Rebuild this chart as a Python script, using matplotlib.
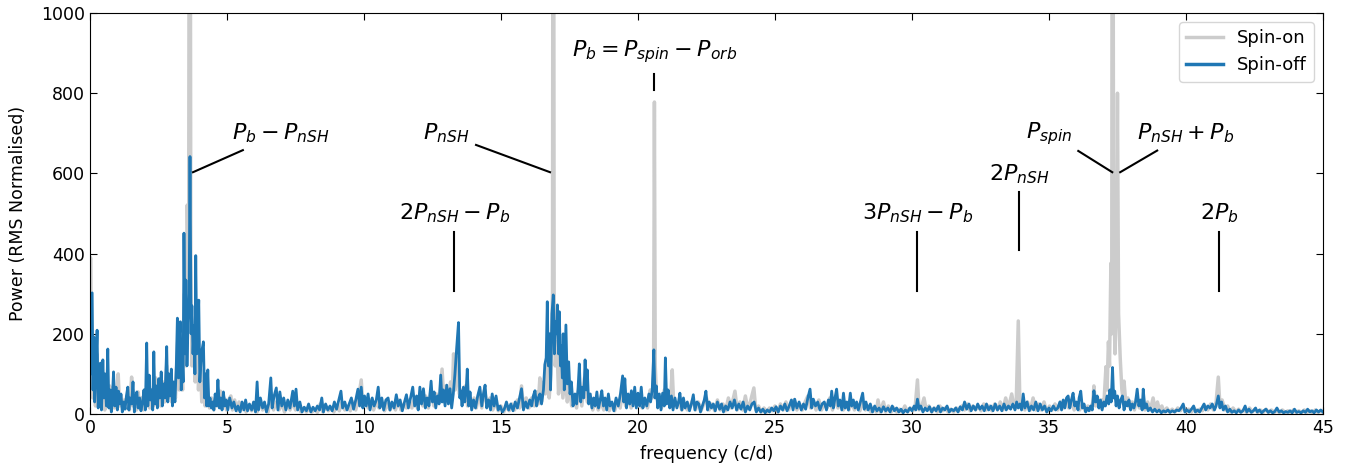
import matplotlib
matplotlib.use('AGG')
import matplotlib.pyplot as plt

# spin-on periodogram (grey, drawn underneath)
on_freq = [0.00, 0.02, 0.06, 0.10, 0.15, 0.20, 0.25, 0.30, 0.36, 0.42,
           0.48, 0.54, 0.60, 0.66, 0.72, 0.78, 0.84, 0.90, 0.96, 1.03,
           1.08, 1.14, 1.20, 1.26, 1.32, 1.38, 1.44, 1.52, 1.57, 1.63,
           1.70, 1.76, 1.82, 1.88, 1.94, 2.00, 2.06, 2.12, 2.18, 2.25,
           2.32, 2.40, 2.46, 2.52, 2.58, 2.66, 2.72, 2.80, 2.86, 2.92,
           2.98, 3.05, 3.12, 3.20, 3.26, 3.32, 3.38, 3.45, 3.50, 3.55,
           3.60, 3.64, 3.68, 3.72, 3.78, 3.84, 3.90, 3.96, 4.02, 4.08,
           4.14, 4.20, 4.28, 4.36, 4.44, 4.52, 4.60, 4.68, 4.76, 4.82,
           4.90, 4.98, 5.06, 5.14, 5.20, 5.28, 5.36, 5.44, 5.52, 5.60,
           5.70, 5.80, 5.90, 6.00, 6.10, 6.20, 6.30, 6.40, 6.50, 6.60,
           6.70, 6.80, 6.90, 7.00, 7.10, 7.20, 7.30, 7.40, 7.50, 7.60,
           7.70, 7.80, 7.90, 8.00, 8.10, 8.20, 8.30, 8.40, 8.50, 8.60,
           8.70, 8.80, 8.90, 9.00, 9.10, 9.20, 9.30, 9.40, 9.50, 9.60,
           9.70, 9.80, 9.90, 9.96, 10.05, 10.15, 10.25, 10.35, 10.45, 10.55,
           10.65, 10.75, 10.85, 10.95, 11.05, 11.15, 11.25, 11.35, 11.45, 11.55,
           11.65, 11.75, 11.85, 11.95, 12.05, 12.15, 12.25, 12.35, 12.45, 12.55,
           12.65, 12.75, 12.85, 12.92, 13.00, 13.08, 13.16, 13.22, 13.27, 13.33,
           13.42, 13.48, 13.55, 13.62, 13.70, 13.78, 13.86, 13.94, 14.02, 14.10,
           14.20, 14.30, 14.40, 14.50, 14.60, 14.70, 14.80, 14.90, 15.00, 15.10,
           15.20, 15.30, 15.40, 15.50, 15.60, 15.68, 15.75, 15.82, 15.92, 16.02,
           16.12, 16.22, 16.30, 16.36, 16.42, 16.48, 16.55, 16.62, 16.70, 16.76,
           16.82, 16.88, 16.91, 16.94, 16.98, 17.04, 17.10, 17.18, 17.26, 17.34,
           17.42, 17.50, 17.58, 17.66, 17.76, 17.86, 17.95, 18.05, 18.15, 18.25,
           18.35, 18.45, 18.55, 18.65, 18.75, 18.85, 18.95, 19.05, 19.15, 19.25,
           19.35, 19.45, 19.55, 19.65, 19.75, 19.85, 19.95, 20.05, 20.15, 20.25,
           20.35, 20.45, 20.52, 20.57, 20.60, 20.63, 20.68, 20.76, 20.86, 20.96,
           21.04, 21.12, 21.20, 21.25, 21.30, 21.40, 21.50, 21.60, 21.70, 21.80,
           21.90, 22.00, 22.10, 22.20, 22.30, 22.40, 22.50, 22.60, 22.70, 22.80,
           22.90, 23.00, 23.10, 23.20, 23.30, 23.40, 23.54, 23.62, 23.72, 23.82,
           23.92, 24.00, 24.10, 24.23, 24.30, 24.40, 24.50, 24.60, 24.70, 24.80,
           24.90, 25.00, 25.10, 25.20, 25.30, 25.40, 25.50, 25.60, 25.70, 25.80,
           25.90, 26.00, 26.10, 26.20, 26.30, 26.40, 26.50, 26.60, 26.70, 26.80,
           26.90, 27.00, 27.10, 27.20, 27.30, 27.40, 27.50, 27.60, 27.70, 27.80,
           27.90, 28.00, 28.10, 28.20, 28.30, 28.40, 28.50, 28.60, 28.70, 28.76,
           28.84, 28.96, 29.04, 29.14, 29.24, 29.34, 29.44, 29.54, 29.64, 29.74,
           29.84, 29.94, 30.04, 30.12, 30.20, 30.26, 30.36, 30.44, 30.52, 30.62,
           30.72, 30.82, 30.92, 31.02, 31.12, 31.22, 31.32, 31.42, 31.52, 31.62,
           31.72, 31.82, 31.92, 32.02, 32.12, 32.22, 32.32, 32.42, 32.52, 32.62,
           32.72, 32.82, 32.92, 33.02, 33.12, 33.22, 33.32, 33.42, 33.52, 33.64,
           33.72, 33.80, 33.88, 33.94, 34.02, 34.12, 34.22, 34.32, 34.42, 34.52,
           34.62, 34.72, 34.82, 34.92, 35.02, 35.12, 35.22, 35.32, 35.42, 35.52,
           35.62, 35.72, 35.82, 35.92, 36.02, 36.12, 36.22, 36.32, 36.42, 36.52,
           36.60, 36.64, 36.70, 36.78, 36.86, 36.94, 37.00, 37.08, 37.12, 37.17,
           37.21, 37.26, 37.29, 37.32, 37.36, 37.41, 37.46, 37.50, 37.54, 37.60,
           37.66, 37.70, 37.74, 37.80, 37.88, 37.96, 38.04, 38.12, 38.20, 38.30,
           38.40, 38.50, 38.60, 38.70, 38.80, 38.88, 38.96, 39.04, 39.12, 39.20,
           39.30, 39.40, 39.50, 39.60, 39.70, 39.80, 39.90, 40.00, 40.10, 40.20,
           40.30, 40.40, 40.50, 40.60, 40.70, 40.80, 40.90, 41.00, 41.10, 41.18,
           41.24, 41.32, 41.42, 41.52, 41.62, 41.72, 41.82, 41.92, 42.02, 42.12,
           42.22, 42.32, 42.42, 42.52, 42.62, 42.72, 42.82, 42.92, 43.02, 43.12,
           43.22, 43.32, 43.42, 43.52, 43.62, 43.72, 43.82, 43.92, 44.02, 44.12,
           44.22, 44.32, 44.42, 44.52, 44.62, 44.72, 44.82, 44.92, 45.00]
on_power = [200, 390, 150, 40, 120, 20, 150, 30, 80, 20,
            90, 10, 60, 20, 70, 10, 40, 15, 50, 100,
            20, 45, 10, 35, 15, 50, 10, 92, 20, 40,
            10, 55, 15, 40, 10, 60, 20, 80, 15, 60,
            20, 90, 30, 60, 20, 80, 30, 120, 40, 90,
            30, 70, 40, 180, 60, 150, 60, 300, 120, 521,
            300, 2500, 400, 120, 200, 80, 250, 60, 150, 30,
            80, 20, 60, 15, 40, 10, 45, 20, 57, 15,
            40, 10, 35, 45, 10, 35, 8, 30, 10, 25,
            5, 20, 8, 25, 5, 30, 10, 20, 5, 40,
            10, 30, 10, 25, 5, 25, 10, 30, 10, 20,
            5, 15, 5, 15, 5, 12, 4, 25, 5, 20,
            8, 15, 5, 20, 8, 30, 10, 20, 8, 30,
            10, 40, 85, 20, 40, 15, 35, 10, 30, 15,
            30, 8, 25, 10, 25, 10, 35, 10, 25, 15,
            35, 15, 40, 15, 40, 20, 45, 15, 60, 20,
            50, 30, 112, 30, 70, 30, 80, 40, 150, 60,
            140, 50, 60, 30, 70, 20, 50, 15, 40, 15,
            50, 15, 60, 20, 40, 10, 30, 8, 20, 5,
            20, 8, 25, 10, 35, 15, 70, 15, 40, 15,
            40, 20, 55, 25, 90, 30, 80, 50, 150, 40,
            100, 300, 2500, 300, 120, 180, 50, 130, 40, 100,
            30, 70, 20, 40, 15, 80, 20, 90, 30, 40,
            10, 35, 10, 30, 10, 30, 8, 25, 8, 30,
            15, 60, 20, 40, 15, 45, 20, 40, 15, 35,
            15, 60, 40, 100, 778, 120, 40, 30, 15, 60,
            30, 30, 50, 110, 30, 20, 30, 10, 25, 10,
            20, 35, 10, 30, 8, 25, 40, 10, 25, 8,
            35, 10, 25, 8, 40, 15, 57, 10, 30, 10,
            45, 15, 30, 65, 10, 20, 5, 15, 5, 15,
            8, 20, 5, 25, 10, 30, 10, 25, 35, 10,
            25, 10, 30, 45, 15, 30, 10, 35, 10, 25,
            15, 40, 10, 35, 15, 30, 10, 25, 10, 30,
            10, 25, 8, 30, 10, 20, 5, 15, 5, 35,
            5, 30, 5, 20, 5, 15, 5, 12, 5, 20,
            5, 15, 8, 20, 85, 10, 20, 40, 10, 20,
            5, 15, 5, 20, 8, 15, 5, 12, 5, 15,
            8, 20, 10, 25, 8, 20, 10, 20, 8, 25,
            10, 20, 8, 25, 10, 30, 10, 40, 15, 50,
            20, 15, 232, 20, 30, 10, 30, 10, 40, 10,
            25, 10, 30, 5, 20, 10, 25, 10, 30, 15,
            35, 15, 30, 10, 25, 10, 25, 8, 20, 10,
            30, 70, 20, 40, 15, 35, 20, 118, 60, 180,
            120, 376, 200, 2500, 300, 150, 300, 800, 250, 140,
            60, 40, 82, 30, 40, 15, 30, 10, 40, 15,
            35, 10, 30, 10, 40, 10, 30, 8, 20, 5,
            15, 5, 12, 5, 15, 8, 20, 5, 12, 5,
            15, 5, 12, 8, 20, 10, 25, 10, 30, 92,
            20, 35, 10, 20, 5, 15, 5, 12, 5, 10,
            4, 15, 5, 12, 4, 10, 4, 12, 4, 10,
            4, 8, 3, 10, 4, 8, 3, 10, 4, 8,
            3, 10, 4, 8, 3, 10, 4, 8, 4]

# spin-off periodogram (blue, on top)
off_freq = [0.00, 0.04, 0.08, 0.11, 0.14, 0.17, 0.22, 0.26, 0.30, 0.34,
            0.38, 0.42, 0.47, 0.51, 0.55, 0.60, 0.65, 0.69, 0.74, 0.78,
            0.82, 0.86, 0.90, 0.95, 1.00, 1.04, 1.08, 1.13, 1.18, 1.23,
            1.28, 1.33, 1.38, 1.42, 1.46, 1.52, 1.57, 1.62, 1.66, 1.71,
            1.76, 1.81, 1.86, 1.92, 1.97, 2.02, 2.07, 2.11, 2.16, 2.20,
            2.25, 2.29, 2.33, 2.37, 2.42, 2.46, 2.51, 2.55, 2.60, 2.64,
            2.69, 2.74, 2.80, 2.84, 2.88, 2.92, 2.97, 3.01, 3.05, 3.10,
            3.15, 3.19, 3.23, 3.27, 3.30, 3.33, 3.37, 3.40, 3.43, 3.47,
            3.50, 3.54, 3.58, 3.62, 3.65, 3.69, 3.72, 3.76, 3.80, 3.83,
            3.86, 3.90, 3.93, 3.97, 4.01, 4.05, 4.09, 4.14, 4.18, 4.22,
            4.26, 4.30, 4.34, 4.38, 4.43, 4.48, 4.52, 4.57, 4.62, 4.67,
            4.72, 4.77, 4.82, 4.87, 4.92, 4.97, 5.03, 5.10, 5.18, 5.25,
            5.33, 5.40, 5.48, 5.55, 5.62, 5.68, 5.75, 5.82, 5.90, 5.97,
            6.04, 6.10, 6.15, 6.22, 6.30, 6.37, 6.44, 6.52, 6.60, 6.65,
            6.72, 6.80, 6.86, 6.93, 7.00, 7.07, 7.15, 7.22, 7.30, 7.40,
            7.46, 7.52, 7.58, 7.66, 7.74, 7.82, 7.90, 7.98, 8.06, 8.14,
            8.22, 8.30, 8.38, 8.46, 8.52, 8.60, 8.68, 8.76, 8.84, 8.92,
            9.00, 9.08, 9.16, 9.22, 9.30, 9.38, 9.46, 9.54, 9.62, 9.70,
            9.78, 9.84, 9.90, 9.96, 10.02, 10.08, 10.15, 10.22, 10.30, 10.37,
            10.45, 10.52, 10.58, 10.65, 10.72, 10.80, 10.88, 10.95, 11.02, 11.10,
            11.18, 11.25, 11.32, 11.40, 11.48, 11.55, 11.62, 11.70, 11.78, 11.85,
            11.92, 11.98, 12.04, 12.10, 12.17, 12.24, 12.30, 12.37, 12.45, 12.50,
            12.56, 12.62, 12.68, 12.74, 12.80, 12.85, 12.90, 12.96, 13.02, 13.08,
            13.14, 13.20, 13.26, 13.32, 13.38, 13.45, 13.50, 13.53, 13.58, 13.63,
            13.68, 13.73, 13.77, 13.82, 13.87, 13.93, 14.00, 14.07, 14.15, 14.23,
            14.30, 14.36, 14.42, 14.48, 14.55, 14.62, 14.68, 14.75, 14.82, 14.90,
            14.97, 15.05, 15.12, 15.20, 15.28, 15.36, 15.44, 15.52, 15.60, 15.68,
            15.75, 15.82, 15.90, 15.97, 16.05, 16.12, 16.18, 16.24, 16.30, 16.36,
            16.42, 16.48, 16.55, 16.60, 16.65, 16.69, 16.73, 16.77, 16.81, 16.86,
            16.91, 16.95, 16.99, 17.03, 17.06, 17.10, 17.13, 17.17, 17.20, 17.24,
            17.27, 17.31, 17.37, 17.42, 17.47, 17.52, 17.57, 17.63, 17.70, 17.76,
            17.81, 17.86, 17.91, 17.96, 18.02, 18.07, 18.11, 18.15, 18.20, 18.26,
            18.32, 18.38, 18.44, 18.50, 18.56, 18.62, 18.68, 18.74, 18.80, 18.86,
            18.92, 18.98, 19.05, 19.12, 19.20, 19.28, 19.36, 19.44, 19.48, 19.52,
            19.58, 19.64, 19.70, 19.76, 19.82, 19.88, 19.94, 20.00, 20.06, 20.12,
            20.18, 20.25, 20.32, 20.40, 20.46, 20.52, 20.58, 20.62, 20.67, 20.72,
            20.78, 20.84, 20.90, 20.96, 21.00, 21.05, 21.10, 21.16, 21.22, 21.28,
            21.35, 21.42, 21.48, 21.53, 21.60, 21.66, 21.72, 21.80, 21.88, 21.95,
            22.02, 22.08, 22.15, 22.22, 22.28, 22.35, 22.42, 22.48, 22.54, 22.60,
            22.68, 22.75, 22.82, 22.90, 22.98, 23.05, 23.12, 23.20, 23.28, 23.36,
            23.44, 23.52, 23.60, 23.68, 23.76, 23.84, 23.92, 24.00, 24.08, 24.16,
            24.24, 24.32, 24.40, 24.48, 24.56, 24.64, 24.72, 24.80, 24.88, 24.96,
            25.04, 25.12, 25.20, 25.28, 25.36, 25.44, 25.52, 25.60, 25.66, 25.72,
            25.80, 25.88, 25.96, 26.04, 26.12, 26.20, 26.28, 26.34, 26.40, 26.48,
            26.56, 26.64, 26.72, 26.80, 26.88, 26.95, 27.02, 27.07, 27.13, 27.19,
            27.25, 27.31, 27.37, 27.44, 27.50, 27.56, 27.62, 27.68, 27.75, 27.80,
            27.86, 27.92, 27.98, 28.04, 28.10, 28.20, 28.26, 28.32, 28.40, 28.48,
            28.56, 28.64, 28.72, 28.80, 28.88, 28.96, 29.04, 29.12, 29.20, 29.28,
            29.36, 29.44, 29.52, 29.60, 29.68, 29.76, 29.84, 29.92, 30.00, 30.08,
            30.14, 30.20, 30.26, 30.32, 30.40, 30.48, 30.56, 30.64, 30.72, 30.80,
            30.88, 30.96, 31.04, 31.12, 31.20, 31.28, 31.36, 31.44, 31.52, 31.60,
            31.68, 31.76, 31.84, 31.92, 32.00, 32.08, 32.16, 32.24, 32.32, 32.40,
            32.48, 32.56, 32.64, 32.72, 32.80, 32.88, 32.96, 33.04, 33.12, 33.20,
            33.28, 33.36, 33.44, 33.52, 33.60, 33.68, 33.76, 33.82, 33.88, 33.94,
            34.00, 34.06, 34.12, 34.20, 34.28, 34.36, 34.44, 34.52, 34.60, 34.68,
            34.76, 34.84, 34.92, 35.00, 35.08, 35.16, 35.24, 35.32, 35.40, 35.46,
            35.52, 35.58, 35.64, 35.70, 35.76, 35.82, 35.88, 35.94, 36.00, 36.06,
            36.10, 36.16, 36.22, 36.28, 36.34, 36.40, 36.46, 36.52, 36.58, 36.64,
            36.70, 36.76, 36.82, 36.88, 36.94, 37.00, 37.06, 37.12, 37.18, 37.22,
            37.27, 37.32, 37.36, 37.40, 37.45, 37.50, 37.56, 37.62, 37.68, 37.74,
            37.80, 37.86, 37.92, 37.98, 38.04, 38.10, 38.16, 38.22, 38.28, 38.34,
            38.40, 38.44, 38.50, 38.56, 38.62, 38.70, 38.78, 38.86, 38.94, 39.02,
            39.10, 39.18, 39.26, 39.34, 39.42, 39.50, 39.58, 39.66, 39.74, 39.82,
            39.90, 39.96, 40.04, 40.12, 40.20, 40.28, 40.34, 40.42, 40.50, 40.58,
            40.66, 40.72, 40.80, 40.88, 40.96, 41.04, 41.10, 41.18, 41.24, 41.30,
            41.36, 41.44, 41.52, 41.60, 41.68, 41.76, 41.84, 41.92, 42.00, 42.08,
            42.16, 42.22, 42.30, 42.38, 42.46, 42.54, 42.60, 42.68, 42.76, 42.84,
            42.92, 43.00, 43.08, 43.16, 43.24, 43.32, 43.40, 43.48, 43.56, 43.64,
            43.72, 43.80, 43.88, 43.96, 44.04, 44.12, 44.20, 44.28, 44.36, 44.44,
            44.52, 44.60, 44.68, 44.76, 44.84, 44.92, 45.00]
off_power = [100, 300, 302, 60, 192, 30, 120, 209, 15, 90,
             127, 10, 135, 40, 100, 20, 162, 15, 60, 5,
             45, 105, 20, 67, 10, 57, 25, 50, 5, 30,
             12, 45, 67, 10, 40, 25, 80, 5, 35, 55,
             15, 40, 8, 30, 60, 10, 177, 20, 97, 35,
             60, 10, 155, 25, 70, 15, 88, 40, 105, 20,
             75, 40, 168, 30, 100, 45, 112, 20, 80, 30,
             120, 239, 90, 200, 230, 60, 135, 80, 451, 150,
             334, 120, 230, 300, 642, 200, 270, 150, 220, 100,
             395, 150, 200, 284, 80, 130, 160, 180, 40, 100,
             20, 110, 20, 40, 15, 30, 10, 50, 20, 85,
             15, 40, 10, 55, 20, 35, 10, 40, 15, 30,
             8, 20, 5, 30, 10, 35, 8, 25, 10, 30,
             5, 80, 10, 40, 15, 30, 5, 25, 90, 15,
             45, 65, 10, 55, 20, 40, 10, 35, 15, 57,
             20, 62, 10, 30, 5, 17, 8, 25, 5, 17,
             8, 20, 10, 40, 5, 25, 10, 20, 8, 30,
             12, 35, 57, 15, 30, 10, 25, 40, 12, 35,
             62, 20, 67, 15, 45, 20, 50, 10, 40, 20,
             35, 67, 15, 40, 10, 35, 40, 10, 30, 15,
             48, 20, 35, 8, 30, 48, 15, 40, 67, 20,
             45, 10, 67, 25, 63, 15, 40, 20, 82, 30,
             55, 15, 45, 25, 97, 30, 60, 20, 72, 25,
             63, 15, 50, 100, 162, 228, 40, 58, 20, 67,
             30, 60, 112, 20, 55, 10, 35, 15, 45, 67,
             20, 50, 72, 15, 35, 10, 50, 20, 45, 10,
             20, 5, 12, 30, 10, 25, 8, 30, 15, 40,
             63, 10, 30, 15, 35, 20, 45, 58, 20, 40,
             50, 25, 60, 123, 140, 280, 120, 200, 60, 250,
             297, 150, 230, 200, 272, 150, 255, 120, 170, 90,
             200, 60, 222, 75, 130, 50, 80, 20, 50, 25,
             60, 125, 30, 67, 40, 135, 60, 110, 25, 50,
             15, 40, 20, 55, 15, 35, 58, 20, 40, 10,
             50, 20, 30, 8, 40, 20, 50, 95, 30, 88,
             15, 50, 25, 58, 20, 67, 15, 52, 20, 67,
             15, 40, 20, 50, 30, 60, 160, 40, 70, 15,
             50, 10, 52, 20, 140, 25, 60, 15, 45, 10,
             40, 15, 30, 52, 10, 40, 15, 30, 8, 25,
             48, 10, 30, 25, 5, 20, 35, 57, 10, 30,
             15, 25, 8, 30, 12, 25, 5, 20, 10, 30,
             15, 35, 10, 25, 12, 30, 5, 20, 10, 25,
             30, 5, 15, 5, 12, 3, 10, 5, 15, 8,
             18, 5, 20, 10, 25, 8, 20, 35, 10, 37,
             15, 30, 10, 25, 12, 40, 62, 15, 37, 20,
             30, 10, 25, 30, 10, 35, 20, 57, 15, 40,
             62, 20, 35, 10, 52, 15, 30, 10, 52, 20,
             35, 15, 30, 10, 25, 52, 12, 30, 10, 25,
             5, 20, 8, 15, 5, 18, 8, 15, 5, 20,
             8, 15, 5, 12, 3, 10, 5, 15, 8, 20,
             10, 37, 12, 20, 5, 15, 8, 18, 5, 15,
             8, 20, 5, 15, 10, 20, 5, 12, 8, 15,
             5, 18, 10, 30, 12, 25, 8, 20, 10, 25,
             12, 20, 8, 25, 10, 20, 8, 25, 10, 20,
             8, 25, 10, 20, 12, 25, 10, 30, 15, 25,
             10, 50, 15, 30, 8, 20, 10, 30, 8, 25,
             10, 20, 5, 15, 8, 20, 10, 15, 30, 10,
             35, 15, 40, 45, 15, 35, 52, 20, 30, 10,
             40, 57, 15, 25, 5, 15, 8, 20, 10, 58,
             30, 45, 15, 35, 10, 30, 20, 45, 25, 60,
             30, 116, 40, 57, 20, 45, 15, 35, 45, 10,
             30, 20, 35, 10, 25, 15, 30, 62, 20, 35,
             10, 62, 15, 25, 8, 15, 5, 12, 5, 10,
             3, 8, 5, 10, 4, 8, 5, 10, 8, 15,
             25, 5, 10, 5, 12, 20, 5, 10, 5, 15,
             25, 10, 20, 15, 25, 10, 20, 45, 15, 30,
             10, 20, 5, 12, 4, 8, 3, 10, 4, 8,
             20, 5, 12, 4, 8, 15, 5, 10, 3, 8,
             12, 4, 8, 3, 6, 15, 5, 8, 3, 6,
             4, 8, 3, 12, 4, 6, 3, 8, 4, 12,
             5, 8, 3, 10, 5, 10, 5]

# annotation labels, where the label sits and the tick line that points to the peak
ann_labels = ['$P_b - P_{nSH}$', '$P_{nSH}$', '$P_b = P_{spin} - P_{orb}$',
              '$2P_{nSH} - P_b$', '$3P_{nSH} - P_b$', '$2P_{nSH}$',
              '$P_{spin}$', '$P_{nSH} + P_b$', '$2P_b$']
ann_text_xy = [(6.98, 700), (13.0, 700), (20.62, 903), (13.32, 500), (30.22, 500),
               (33.9, 598), (35.0, 700), (40.0, 700), (41.2, 500)]
ann_line_from = [(5.58, 658), (14.09, 671), (20.6, 848), (13.3, 454), (30.2, 454),
                 (33.9, 553), (36.07, 656), (38.95, 657), (41.2, 454)]
ann_line_to = [(3.76, 603), (16.79, 603), (20.6, 808), (13.3, 307), (30.2, 307),
               (33.9, 409), (37.31, 603), (37.6, 603), (41.2, 307)]

fig = plt.figure(figsize=(13.49, 4.68), dpi=100)
ax = fig.add_axes([0.0667, 0.1154, 0.914, 0.8568])

ax.plot(on_freq, on_power, color='#cccccc', lw=2.5, label='Spin-on')
ax.plot(off_freq, off_power, color='#1f77b4', lw=2.0, label='Spin-off')

# labels and lines for the peaks
for lab, txy, p0, p1 in zip(ann_labels, ann_text_xy, ann_line_from, ann_line_to):
    ax.text(txy[0], txy[1], lab, fontsize=16, ha='center', va='center')
    ax.plot([p0[0], p1[0]], [p0[1], p1[1]], color='black', lw=1.5)

ax.set_xlim(0, 45)
ax.set_ylim(0, 1000)
ax.set_xticks(range(0, 46, 5))
ax.set_yticks(range(0, 1001, 200))
ax.tick_params(direction='in', top=True, right=True, labelsize=12.5, length=5)
ax.set_xlabel('frequency (c/d)', fontsize=12.5, labelpad=6)
ax.set_ylabel('Power (RMS Normalised)', fontsize=12.5, labelpad=10)
leg = ax.legend(loc='upper right', fontsize=13)
for line in leg.get_lines():
    line.set_linewidth(2.5)

fig.savefig('out.png', dpi=100)
